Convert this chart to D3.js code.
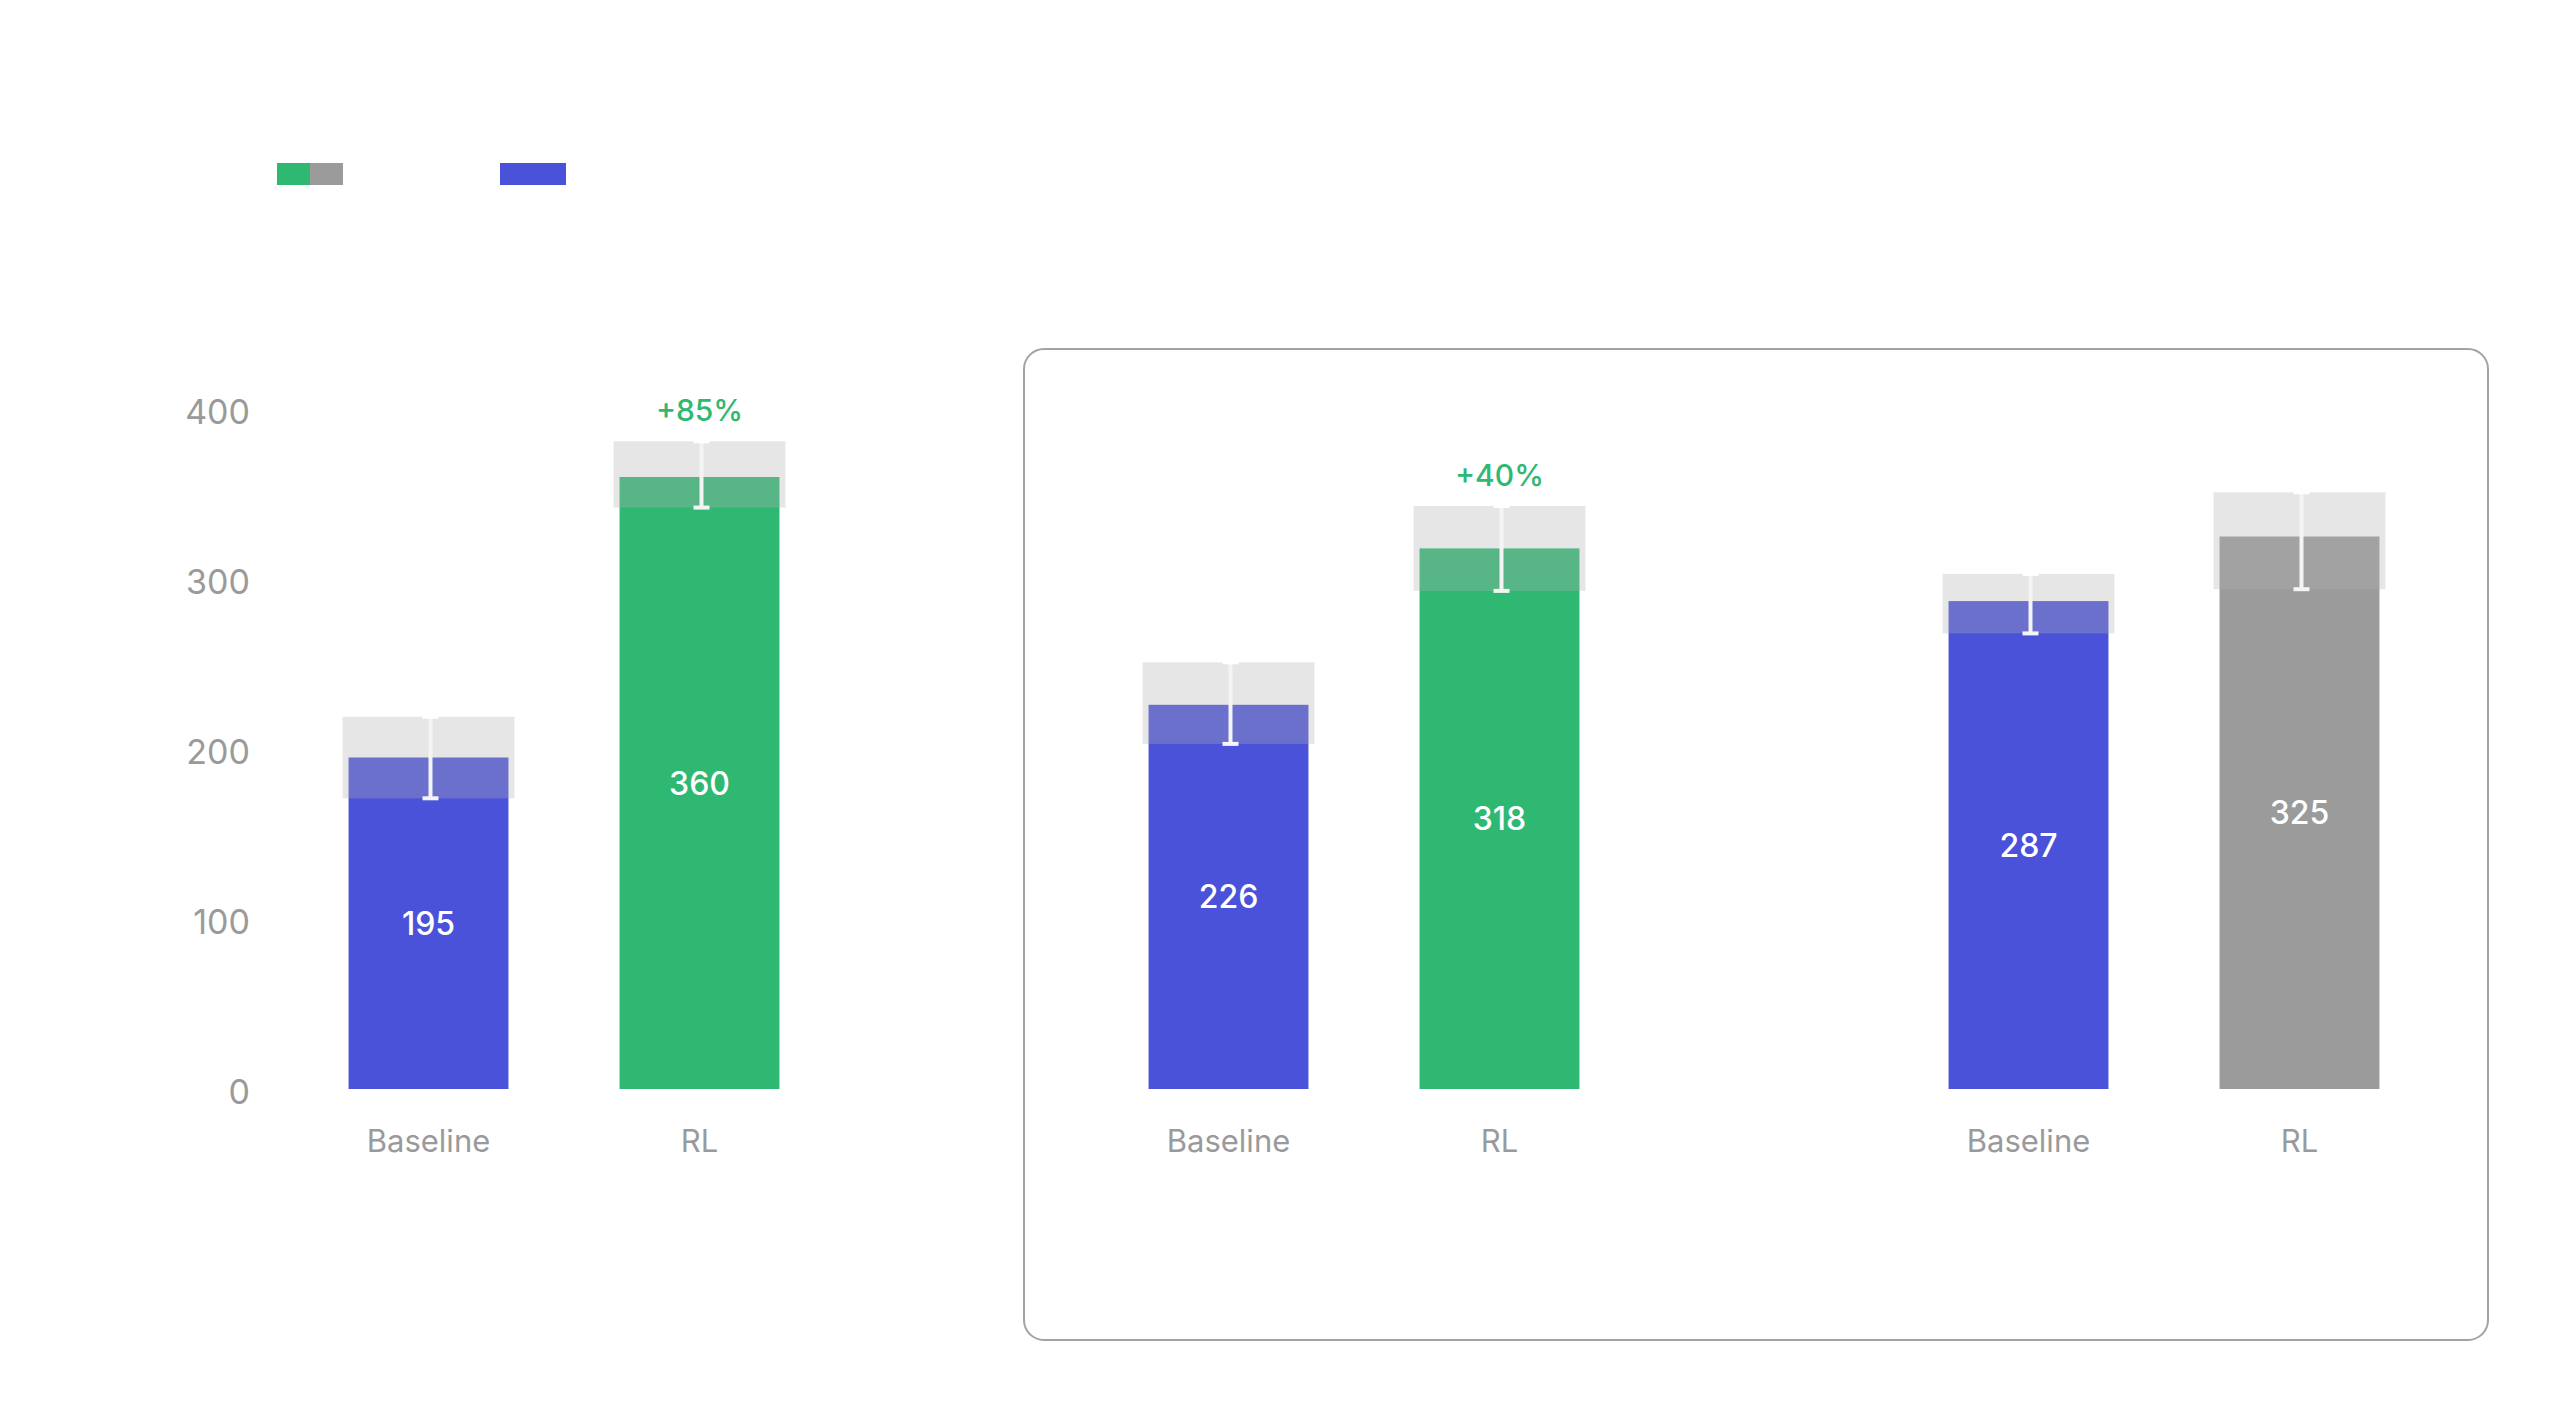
<!DOCTYPE html>
<html>
<head>
<meta charset="utf-8">
<script src="https://cdn.jsdelivr.net/npm/d3@7"></script>
<style>
  body { margin: 0; background: #fff; }
  text { font-family: Inter, "Noto Sans", sans-serif; }
</style>
</head>
<body>
<div class="vis1"></div>
<script>
// Data
var groups = ["g1", "g2", "g3"];
var categories = ["Baseline", "RL"];
var baselineValues = [195, 226, 287];
var rlValues = [360, 318, 325];
var baselineLow = [171, 203, 268];
var baselineHigh = [219, 251, 303];
var rlLow = [342, 293, 294];
var rlHigh = [381, 343, 351];
var gainLabels = ["+85%", "+40%", ""];
var rlColors = ["#2fb872", "#2fb872", "#9b9b9b"];
var yTicks = [0, 100, 200, 300, 400];

var blue = "#4a52d9";
var labelGrey = "#9a9a9a";

var width = 2560, height = 1428;

var svg = d3.select(".vis1")
  .append("svg")
  .attr("width", width)
  .attr("height", height);

// Scales
var y = d3.scaleLinear().domain([0, 400]).range([1089, 409]);
var xGroup = d3.scalePoint().domain(groups).range([564, 2164]);
var xInner = d3.scaleBand().domain(categories).range([-271, 271])
  .paddingInner(0.41).paddingOuter(0.205);

// Flatten into bar records
var bars = [];
groups.forEach(function(g, i) {
  bars.push({group: g, cat: "Baseline", value: baselineValues[i], lo: baselineLow[i], hi: baselineHigh[i], color: blue, gain: ""});
  bars.push({group: g, cat: "RL", value: rlValues[i], lo: rlLow[i], hi: rlHigh[i], color: rlColors[i], gain: gainLabels[i]});
});

function cx(d) { return xGroup(d.group) + xInner(d.cat) + xInner.bandwidth() / 2; }

// Legend swatches
var legend = svg.append("g");
legend.append("rect").attr("x", 277).attr("y", 163).attr("width", 33).attr("height", 22).attr("fill", "#2fb872");
legend.append("rect").attr("x", 310).attr("y", 163).attr("width", 33).attr("height", 22).attr("fill", "#9b9b9b");
legend.append("rect").attr("x", 500).attr("y", 163).attr("width", 66).attr("height", 22).attr("fill", blue);

// Box around the right two groups
var boxLeft = xGroup("g2") - 340, boxRight = xGroup("g3") + 324;
svg.append("rect")
  .attr("x", boxLeft)
  .attr("y", 349)
  .attr("width", boxRight - boxLeft)
  .attr("height", 991)
  .attr("rx", 20)
  .attr("fill", "none")
  .attr("stroke", "#a3a3a3")
  .attr("stroke-width", 2);

// Y axis (labels only)
var yAxis = svg.append("g")
  .attr("transform", "translate(250,4)")
  .call(d3.axisLeft(y).tickValues(yTicks).tickSize(0).tickPadding(0));
yAxis.select(".domain").remove();
yAxis.selectAll("text")
  .attr("font-size", "34px")
  .attr("fill", labelGrey)
  .style("font-family", "Inter, 'Noto Sans', sans-serif");

// Bars
svg.selectAll("rect.bar")
  .data(bars)
  .enter()
  .append("rect")
    .attr("class", "bar")
    .attr("x", function(d) { return cx(d) - xInner.bandwidth() / 2; })
    .attr("y", function(d) { return y(d.value); })
    .attr("width", xInner.bandwidth())
    .attr("height", function(d) { return y(0) - y(d.value); })
    .attr("fill", function(d) { return d.color; });

// Confidence band
svg.selectAll("rect.ci")
  .data(bars)
  .enter()
  .append("rect")
    .attr("class", "ci")
    .attr("x", function(d) { return cx(d) - xInner.bandwidth() / 2 - 6; })
    .attr("y", function(d) { return y(d.hi); })
    .attr("width", xInner.bandwidth() + 12)
    .attr("height", function(d) { return y(d.lo) - y(d.hi); })
    .attr("fill", "#b1b1b1")
    .attr("opacity", 0.32);

// Whiskers
var whisk = svg.selectAll("g.whisk")
  .data(bars)
  .enter()
  .append("g")
    .attr("class", "whisk")
    .attr("stroke", "#f4f4f4")
    .attr("stroke-width", 4);
whisk.append("line")
  .attr("x1", function(d) { return cx(d) + 2; })
  .attr("x2", function(d) { return cx(d) + 2; })
  .attr("y1", function(d) { return y(d.hi); })
  .attr("y2", function(d) { return y(d.lo); });
whisk.append("line")
  .attr("x1", function(d) { return cx(d) - 6; })
  .attr("x2", function(d) { return cx(d) + 10; })
  .attr("y1", function(d) { return y(d.lo); })
  .attr("y2", function(d) { return y(d.lo); });
whisk.append("line")
  .attr("stroke", "#fff")
  .attr("x1", function(d) { return cx(d) - 6; })
  .attr("x2", function(d) { return cx(d) + 10; })
  .attr("y1", function(d) { return y(d.hi); })
  .attr("y2", function(d) { return y(d.hi); });

// Values inside bars
svg.selectAll("text.val")
  .data(bars)
  .enter()
  .append("text")
    .attr("class", "val")
    .attr("x", function(d) { return cx(d); })
    .attr("y", function(d) { return (y(d.value) + y(0)) / 2; })
    .attr("text-anchor", "middle")
    .attr("dominant-baseline", "central")
    .attr("font-size", "32px")
    .attr("font-weight", 500)
    .attr("fill", "#fff")
    .text(function(d) { return d.value; });

// Gain labels above RL bars
svg.selectAll("text.gain")
  .data(bars.filter(function(d) { return d.gain; }))
  .enter()
  .append("text")
    .attr("class", "gain")
    .attr("x", function(d) { return cx(d); })
    .attr("y", function(d) { return y(d.hi) - 31; })
    .attr("text-anchor", "middle")
    .attr("dominant-baseline", "central")
    .attr("font-size", "30px")
    .attr("font-weight", 500)
    .attr("fill", "#2fb872")
    .text(function(d) { return d.gain; });

// Category labels
svg.selectAll("text.cat")
  .data(bars)
  .enter()
  .append("text")
    .attr("class", "cat")
    .attr("x", function(d) { return cx(d); })
    .attr("y", 1140)
    .attr("text-anchor", "middle")
    .attr("dominant-baseline", "central")
    .attr("font-size", "31px")
    .attr("fill", labelGrey)
    .text(function(d) { return d.cat; });
</script>
</body>
</html>
